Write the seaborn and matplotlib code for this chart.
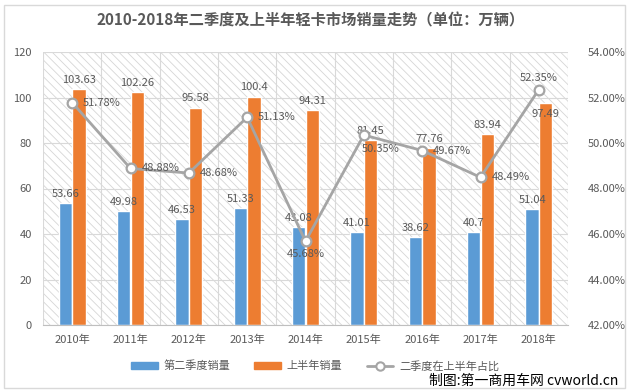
import matplotlib.pyplot as plt
import numpy as np
import pandas as pd
import seaborn as sns
from matplotlib.lines import Line2D
from matplotlib.patches import Patch, Rectangle
from matplotlib.ticker import FuncFormatter, MultipleLocator

years = ["2010年", "2011年", "2012年", "2013年", "2014年", "2015年", "2016年", "2017年", "2018年"]
q2_sales = [53.66, 49.98, 46.53, 51.33, 43.08, 41.01, 38.62, 40.7, 51.04]
h1_sales = [103.63, 102.26, 95.58, 100.4, 94.31, 81.45, 77.76, 83.94, 97.49]
q2_share = [51.78, 48.88, 48.68, 51.13, 45.68, 50.35, 49.67, 48.49, 52.35]
series_names = ["第二季度销量", "上半年销量", "二季度在上半年占比"]

BLUE = "#5B9BD5"
ORANGE = "#ED7D31"
GRAY = "#A5A5A5"
TXT = "#595959"

sns.set_style("white")
plt.rcParams["font.family"] = ["Noto Sans CJK SC", "DejaVu Sans"]
plt.rcParams["hatch.color"] = "#d6d6d6"
plt.rcParams["hatch.linewidth"] = 0.6

df = pd.DataFrame({
    "year": years * 2,
    "value": q2_sales + h1_sales,
    "series": [series_names[0]] * len(years) + [series_names[1]] * len(years),
})

fig = plt.figure(figsize=(6.3, 3.92), dpi=100)
fig.add_artist(Rectangle((4 / 630, 4 / 392), 621 / 630, 383 / 392, transform=fig.transFigure,
                         fill=False, edgecolor="#d9d9d9", lw=1))
ax = fig.add_axes([43 / 630, 1 - 325 / 392, 525 / 630, 273 / 392])

# hatched plot-area background like the excel chart
ax.set_facecolor("white")
ax.add_patch(Rectangle((0, 0), 1, 1, transform=ax.transAxes, facecolor="white",
                       edgecolor="#d6d6d6", hatch="\\\\\\\\", lw=0, zorder=0))

sns.barplot(data=df, x="year", y="value", hue="series", palette=[BLUE, ORANGE],
            width=0.46, saturation=1, legend=False, ax=ax, zorder=2)

blue_bars, orange_bars = ax.containers[0], ax.containers[1]
ax.bar_label(blue_bars, fmt="%g", padding=3, fontsize=8, color=TXT)
# last orange label sits inside the bar in the original (collides with the % label)
orange_labels = [f"{v:g}" for v in h1_sales[:-1]] + [""]
ax.bar_label(orange_bars, labels=orange_labels, padding=3, fontsize=8, color=TXT)
last = orange_bars[-1]
ax.annotate(f"{h1_sales[-1]:g}", (last.get_x() + last.get_width() / 2, last.get_height()),
            xytext=(0, -11), textcoords="offset pixels", ha="center", va="center",
            fontsize=8, color=TXT)

ax.set_xlim(-0.5, len(years) - 0.5)
ax.set_ylim(0, 120)
ax.yaxis.set_major_locator(MultipleLocator(20))
ax.xaxis.set_minor_locator(MultipleLocator(1, offset=0.5))
ax.set_axisbelow(True)
ax.grid(axis="y", which="major", color="#d9d9d9", lw=0.8)
ax.grid(axis="x", which="minor", color="#d9d9d9", lw=0.8)
ax.set_xlabel("")
ax.set_ylabel("")
ax.tick_params(axis="y", length=0, pad=8, labelsize=8, labelcolor=TXT)
ax.tick_params(axis="x", which="major", length=0, pad=7, labelsize=8, labelcolor=TXT)
ax.tick_params(axis="x", which="minor", length=4, color="#bfbfbf", width=0.8)
for side in ["left", "right", "top"]:
    ax.spines[side].set_visible(False)
ax.spines["bottom"].set_color("#bfbfbf")

ax2 = ax.twinx()
pos = np.arange(len(years))
sns.lineplot(x=pos, y=q2_share, ax=ax2, color=GRAY, lw=2, marker="o", markersize=7,
             markerfacecolor="white", markeredgecolor=GRAY, markeredgewidth=1.6, zorder=4)
ax2.set_ylim(42, 54)
ax2.yaxis.set_major_locator(MultipleLocator(2))
ax2.yaxis.set_major_formatter(FuncFormatter(lambda v, _: f"{v:.2f}%"))
ax2.tick_params(axis="y", length=0, pad=14, labelsize=8, labelcolor=TXT)
for side in ax2.spines:
    ax2.spines[side].set_visible(False)

# label placement per point: (dx, dy, ha, va) in pixels
placement = {4: (0, -8, "center", "top"), 5: (-2, -14, "left", "center"), 8: (0, 7, "center", "bottom")}
for i, v in enumerate(q2_share):
    dx, dy, ha, va = placement.get(i, (11, 0, "left", "center"))
    ax2.annotate(f"{v:.2f}%", (i, v), xytext=(dx, dy), textcoords="offset pixels",
                 ha=ha, va=va, fontsize=8, color=TXT, zorder=5)

fig.text(311 / 630, 1 - 20 / 392, "2010-2018年二季度及上半年轻卡市场销量走势（单位：万辆）",
         ha="center", va="center", fontsize=11, fontweight="bold", color=TXT)

handles = [Patch(color=BLUE), Patch(color=ORANGE),
           Line2D([], [], color=GRAY, lw=2, marker="o", markersize=6,
                  markerfacecolor="white", markeredgecolor=GRAY, markeredgewidth=1.5)]
fig.legend(handles, series_names, loc="center", bbox_to_anchor=(0.5, 1 - 366 / 392), ncol=3,
           frameon=False, fontsize=8, labelcolor=TXT, handlelength=2.4, handleheight=0.6,
           columnspacing=2.2, handletextpad=0.5)

fig.text(618 / 630, 1 - 381 / 392, "制图:第一商用车网 cvworld.cn", ha="right", va="center",
         fontsize=10, color="black")

fig.savefig("out.png", dpi=100)
